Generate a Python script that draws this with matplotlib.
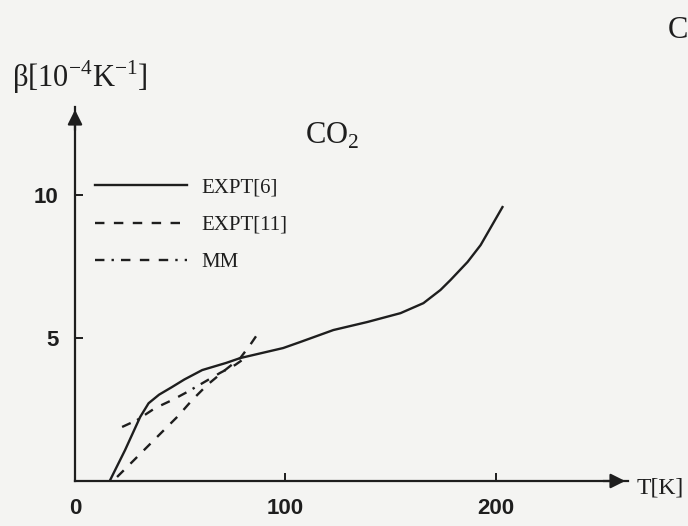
import matplotlib.pyplot as plt

# EXPT[6] (durchgezogen)
t_expt6 = [16.7, 23.8, 31.0, 35.0, 40.0, 46.0, 52.0, 60.5, 71.9, 78.6, 99.0, 107.1,
           122.9, 139.0, 154.8, 165.7, 173.8, 178.6, 186.7, 192.9, 197.6, 203.3]
b_expt6 = [0.03, 1.08, 2.24, 2.72, 3.02, 3.28, 3.55, 3.88, 4.13, 4.30, 4.65, 4.86,
           5.28, 5.56, 5.87, 6.22, 6.68, 7.03, 7.66, 8.25, 8.85, 9.58]

# EXPT[11] (gestrichelt)
t_expt11 = [20.0, 27.1, 34.3, 41.9, 49.0, 55.7, 62.9, 71.4, 78.6, 83.3, 87.1]
b_expt11 = [0.14, 0.66, 1.19, 1.75, 2.27, 2.83, 3.36, 3.88, 4.30, 4.76, 5.17]

# MM
t_mm = [22.4, 29.5, 38.1, 46.2, 53.3, 69.0, 76.2, 79.5]
b_mm = [1.89, 2.13, 2.55, 2.83, 3.11, 3.78, 4.06, 4.23]

x_ticks = [0, 100, 200]
y_ticks = [5, 10]

plt.rcParams["mathtext.fontset"] = "custom"
plt.rcParams["mathtext.rm"] = "Liberation Serif"

ink = "#1e1e1e"
paper = "#f4f4f2"

fig = plt.figure(figsize=(6.88, 5.26), dpi=100, facecolor=paper)
ax = fig.add_axes([75 / 688, 45 / 526, 553 / 688, 374 / 526])
ax.set_facecolor(paper)

ax.plot(t_expt6, b_expt6, color=ink, lw=1.7, label="EXPT[6]")
ax.plot(t_expt11, b_expt11, color=ink, lw=1.7, linestyle=(0, (4, 4)), label="EXPT[11]")
ax.plot(t_mm, b_mm, color=ink, lw=1.7, linestyle=(0, (4, 3, 1, 3, 4, 4, 4, 4)), label="MM")

ax.set_xlim(0, 263)
ax.set_ylim(0, 13.08)

# Achsen mit Pfeilen
for s in ["top", "right"]:
    ax.spines[s].set_visible(False)
for s in ["left", "bottom"]:
    ax.spines[s].set_linewidth(1.6)
    ax.spines[s].set_color(ink)
ax.annotate("", xy=(1.0, 0), xytext=(0.95, 0), xycoords="axes fraction",
            arrowprops=dict(arrowstyle="-|>", color=ink, lw=1.6, mutation_scale=22))
ax.annotate("", xy=(0, 1.0), xytext=(0, 0.93), xycoords="axes fraction",
            arrowprops=dict(arrowstyle="-|>", color=ink, lw=1.6, mutation_scale=22))

ax.set_xticks(x_ticks)
ax.set_yticks(y_ticks)
ax.set_xticklabels([str(v) for v in x_ticks])
ax.set_yticklabels([str(v) for v in y_ticks])
ax.tick_params(direction="in", length=6, width=1.4, color=ink, labelcolor=ink)
ax.tick_params(axis="x", pad=12)
ax.tick_params(axis="y", pad=12)
for lab in ax.get_xticklabels() + ax.get_yticklabels():
    lab.set_fontfamily("Liberation Sans")
    lab.set_fontweight("bold")
    lab.set_fontsize(16)

ax.legend(loc="upper left", bbox_to_anchor=(95 / 688, 1 - 178 / 526),
          bbox_transform=fig.transFigure, frameon=False, handlelength=4.4,
          handletextpad=0.7, labelspacing=0.85, borderpad=0, borderaxespad=0,
          prop={"family": "Liberation Serif", "size": 15}, labelcolor=ink)

fig.text(332 / 688, 1 - 136 / 526, r"CO$_2$", ha="center", va="center",
         family="Liberation Serif", fontsize=22, color=ink)
fig.text(12 / 688, 1 - 77 / 526, r"β[10$^{-4}$K$^{-1}$]", ha="left", va="center",
         family="Liberation Serif", fontsize=22, color=ink)
fig.text(637 / 688, 1 - 488 / 526, "T[K]", ha="left", va="center",
         family="Liberation Serif", fontsize=17, color=ink)
fig.text(668 / 688, 1 - 30 / 526, "C", ha="left", va="center",
         family="Liberation Serif", fontsize=22, color=ink)

fig.savefig("out.png", dpi=100, facecolor=paper)
